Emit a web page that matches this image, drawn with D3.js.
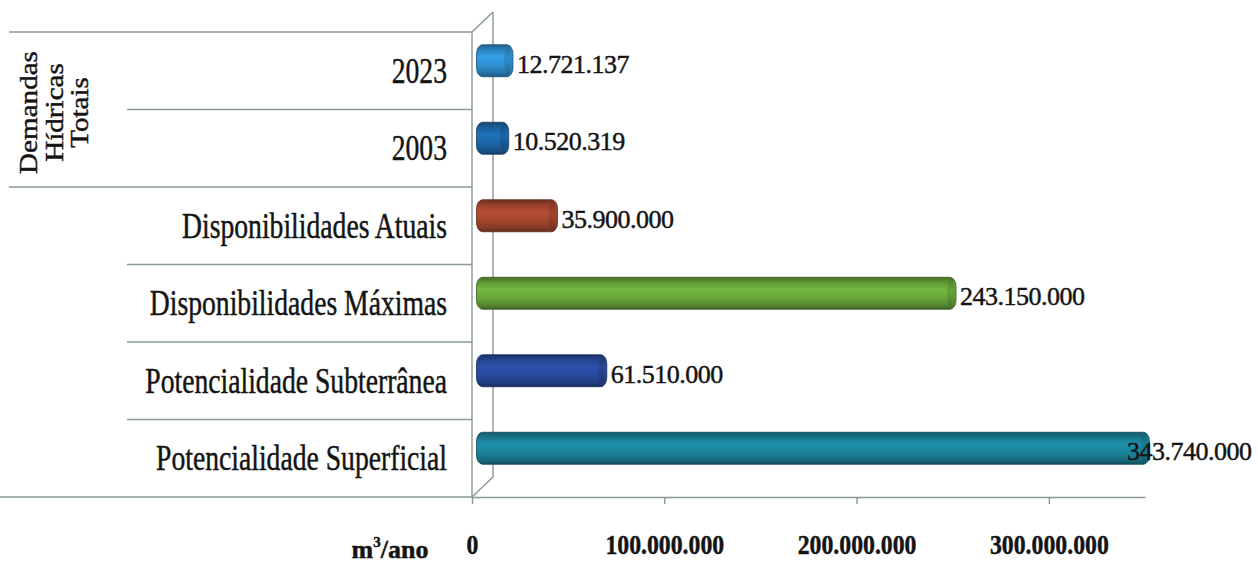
<!DOCTYPE html>
<html lang="pt">
<head>
<meta charset="utf-8">
<script src="https://cdn.jsdelivr.net/npm/d3@7"></script>
<style>
  html, body { margin: 0; padding: 0; background: #fff; }
  svg { display: block; }
  text { font-family: "Liberation Serif", "Times New Roman", serif; fill: #141414; stroke: #141414; stroke-width: 0.45px; }
</style>
</head>
<body>
<svg id="chart" width="1258" height="566"></svg>
<script>
// Categories, top to bottom as drawn
const categories = [
  "2023",
  "2003",
  "Disponibilidades Atuais",
  "Disponibilidades Máximas",
  "Potencialidade Subterrânea",
  "Potencialidade Superficial"
];
// Volumes in m³/ano
const values = [12721137, 10520319, 35900000, 243150000, 61510000, 343740000];
// Bar colours (mid tone of each cylinder)
const barColors = ["#2e90d0", "#1d66a6", "#a4462e", "#67a539", "#29499b", "#1b8198"];
// Bottom axis ticks
const tickValues = [0, 100000000, 200000000, 300000000];
// Group label spanning the two yearly demand rows
const groupLabel = ["Demandas", "Hídricas", "Totais"];
const groupMembers = ["2023", "2003"];
const unitLabel = ["m", "3", "/ano"];

const W = 1258, H = 566;
const svg = d3.select("#chart");

const ptBR = d3.formatLocale({ decimal: ",", thousands: ".", grouping: [3], currency: ["R$", ""] });
const fmt = ptBR.format(",");

// Front plane of the 3-D box
const x = d3.scaleLinear().domain([0, 350000000]).range([472, 1145]);
const y = d3.scaleBand().domain(categories).range([32, 497]).padding(0);
const depthX = 21, depthY = -20;              // offset of the back wall
const barDX = depthX / 2, barDY = depthY / 2; // bars sit mid-depth
const barH = 32, capR = 6;
const lineColor = "#8a9898";

// Horizontal glyph compression used throughout the chart's typography
function squeeze(sel, k) {
  sel.each(function () {
    const w = this.getComputedTextLength();
    d3.select(this).attr("textLength", w * k).attr("lengthAdjust", "spacingAndGlyphs");
  });
}

// --- 3-D walls: back wall edge, top and floor diagonals ---
const walls = svg.append("g").attr("stroke", lineColor).attr("stroke-width", 1.4).attr("fill", "none");
walls.append("line")
  .attr("x1", x(0) + depthX).attr("x2", x(0) + depthX)
  .attr("y1", y.range()[0] + depthY).attr("y2", y.range()[1] + depthY);
walls.append("line")
  .attr("x1", x(0)).attr("y1", y.range()[0])
  .attr("x2", x(0) + depthX).attr("y2", y.range()[0] + depthY);
walls.append("line")
  .attr("x1", x(0)).attr("y1", y.range()[1])
  .attr("x2", x(0) + depthX).attr("y2", y.range()[1] + depthY);
walls.append("line")
  .attr("x1", x(0)).attr("x2", x(0))
  .attr("y1", y.range()[0]).attr("y2", y.range()[1]);

// --- Category frame lines (multi-level axis) ---
const frame = svg.append("g").attr("stroke", lineColor).attr("stroke-width", 1.4);
const groupBottom = y(groupMembers[groupMembers.length - 1]) + y.bandwidth();
categories.forEach((c, i) => {
  const top = y(c);
  let x1 = 127;
  if (i === 0 || Math.abs(top - groupBottom) < 0.5) x1 = 9;
  frame.append("line").attr("x1", x1).attr("x2", x(0)).attr("y1", top).attr("y2", top);
});
frame.append("line").attr("x1", 0).attr("x2", x(0)).attr("y1", y.range()[1]).attr("y2", y.range()[1]);

// --- Bottom value axis ---
const xAxis = d3.axisBottom(x)
  .tickValues(tickValues)
  .tickFormat(fmt)
  .tickSizeInner(7)
  .tickSizeOuter(0)
  .tickPadding(30);
const gx = svg.append("g").attr("transform", `translate(0,${y.range()[1]})`).call(xAxis);
gx.select(".domain").attr("stroke", lineColor).attr("stroke-width", 1.4);
gx.selectAll(".tick line").attr("stroke", lineColor).attr("stroke-width", 1.4);
gx.selectAll(".tick text")
  .attr("fill", "#141414")
  .attr("dy", 0)
  .attr("y", 57)
  .style("font-family", '"Liberation Serif", "Times New Roman", serif')
  .style("font-size", "27px")
  .style("font-weight", "bold")
  .call(squeeze, 0.88);

// Unit label
const unit = svg.append("text")
  .attr("x", 390).attr("y", 558)
  .attr("text-anchor", "middle")
  .style("font-size", "26px").style("font-weight", "bold");
unit.append("tspan").text(unitLabel[0]);
unit.append("tspan").attr("dy", -11).style("font-size", "15px").text(unitLabel[1]);
unit.append("tspan").attr("dy", 11).text(unitLabel[2]);

// --- Category labels ---
svg.append("g").selectAll("text").data(categories).join("text")
  .attr("x", 447)
  .attr("y", d => y(d) + y.bandwidth() / 2 + 12)
  .attr("text-anchor", "end")
  .style("font-size", "35px")
  .text(d => d)
  .call(squeeze, 0.79);

// Rotated group label
const gl = svg.append("text")
  .attr("transform", `translate(0,${(y.range()[0] + groupBottom) / 2 + 3}) rotate(-90)`)
  .attr("text-anchor", "middle")
  .style("font-size", "26px");
gl.selectAll("tspan").data(groupLabel).join("tspan")
  .attr("x", 0)
  .attr("y", (d, i) => 37 + i * 25.5)
  .text(d => d);
gl.selectAll("tspan").each(function () {
  const w = this.getComputedTextLength();
  d3.select(this).attr("textLength", w * 1.12).attr("lengthAdjust", "spacingAndGlyphs");
});

// --- Cylinder bars ---
const defs = svg.append("defs");
const bars = categories.map((c, i) => ({ cat: c, value: values[i], color: barColors[i], i }));
bars.forEach(b => {
  const base = d3.color(b.color);
  const g = defs.append("linearGradient").attr("id", "cyl" + b.i)
    .attr("x1", 0).attr("y1", 0).attr("x2", 0).attr("y2", 1);
  g.append("stop").attr("offset", "0%").attr("stop-color", base.darker(1.1));
  g.append("stop").attr("offset", "18%").attr("stop-color", base.darker(0.2));
  g.append("stop").attr("offset", "38%").attr("stop-color", base.brighter(0.3));
  g.append("stop").attr("offset", "65%").attr("stop-color", base);
  g.append("stop").attr("offset", "88%").attr("stop-color", base.darker(0.6));
  g.append("stop").attr("offset", "100%").attr("stop-color", base.darker(1.4));
  const gc = defs.append("linearGradient").attr("id", "cap" + b.i)
    .attr("x1", 0).attr("y1", 0).attr("x2", 0).attr("y2", 1);
  gc.append("stop").attr("offset", "0%").attr("stop-color", base.darker(0.8));
  gc.append("stop").attr("offset", "45%").attr("stop-color", base.darker(0.3));
  gc.append("stop").attr("offset", "100%").attr("stop-color", base.darker(1.2));
});

const gb = svg.append("g");
const barG = gb.selectAll("g").data(bars).join("g");
const cy = d => y(d.cat) + y.bandwidth() / 2 + barDY;
barG.append("rect")
  .attr("x", d => x(0) + barDX - capR)
  .attr("y", d => cy(d) - barH / 2)
  .attr("width", d => x(d.value) - x(0) + 2 * capR)
  .attr("height", barH)
  .attr("rx", capR).attr("ry", 9)
  .attr("fill", d => `url(#cyl${d.i})`)
  .attr("stroke", d => d3.color(d.color).darker(1.6))
  .attr("stroke-width", 0.8);
barG.append("ellipse")
  .attr("cx", d => x(d.value) + barDX + 1)
  .attr("cy", cy)
  .attr("rx", capR - 2).attr("ry", barH / 2 - 2)
  .attr("fill", d => `url(#cap${d.i})`)
  .attr("opacity", 0.6);

// Value labels
const vl = svg.append("g").selectAll("text").data(bars).join("text")
  .attr("y", d => cy(d) + 12)
  .style("font-size", "26px")
  .style("letter-spacing", "-0.5px")
  .text(d => fmt(d.value));
vl.attr("x", function (d) {
  const w = this.getBBox().width;
  const end = x(d.value) + barDX + capR + 4;
  return Math.min(end, W - 6 - w);
});
</script>
</body>
</html>
